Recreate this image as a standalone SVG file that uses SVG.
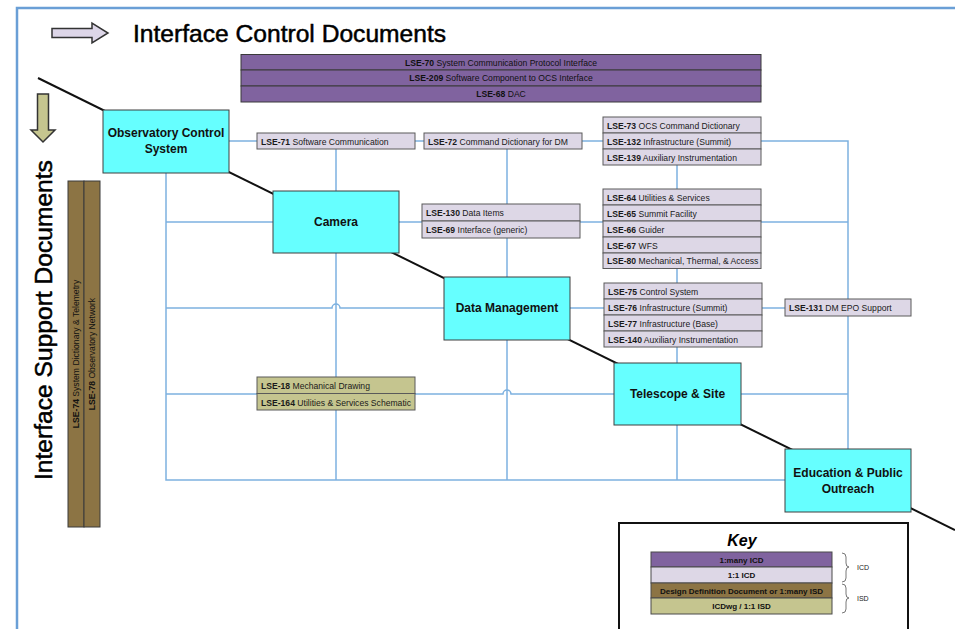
<svg xmlns="http://www.w3.org/2000/svg" width="955" height="629" viewBox="0 0 955 629">
<style>
  .node rect { fill: #66ffff; stroke: #3f3f3f; stroke-width: 1; }
  .nt { font-family: "Liberation Sans", Arial, sans-serif; font-weight: bold; font-size: 12px; fill: #111; text-anchor: middle; }
  .icd rect { fill: #ddd7e6; stroke: #5a5a5a; stroke-width: 1; }
  .many rect { fill: #80639f; stroke: #3a3a3a; stroke-width: 1; }
  .ddd rect { fill: #8c7444; stroke: #3a3a3a; stroke-width: 1; }
  .isd rect { fill: #c5c58f; stroke: #5a5a5a; stroke-width: 1; }
  .t { font-family: "Liberation Sans", Arial, sans-serif; font-size: 8.6px; fill: #1a1a1a; }
  .t tspan.b { font-weight: bold; }
  .c { font-family: "Liberation Sans", Arial, sans-serif; font-size: 8.6px; fill: #111; text-anchor: middle; }
  .kt { font-family: "Liberation Sans", Arial, sans-serif; font-size: 8px; font-weight: bold; fill: #111; text-anchor: middle; }
  .conn path { stroke: #7db1e0; stroke-width: 1.5; fill: none; }
  .big { font-family: "Liberation Sans", Arial, sans-serif; font-size: 24.6px; fill: #000; stroke: #000; stroke-width: 0.5; }
</style>

<!-- frame -->
<path d="M17,629 V8 H955" fill="none" stroke="#6a9fd6" stroke-width="2.5"/>

<!-- title -->
<g id="title">
  <path d="M52,28.5 H92 V23 L108,33 L92,43 V37.5 H52 Z" fill="#ddd6e8" stroke="#333" stroke-width="1.5"/>
  <text class="big" x="133" y="42">Interface Control Documents</text>
</g>
<g id="isd-title">
  <path d="M37.5,94 H48.5 V130 H55 L43,142 L31,130 H37.5 Z" fill="#c5c58f" stroke="#333" stroke-width="1.5"/>
  <text class="big" transform="translate(52,480) rotate(-90)" x="0" y="0">Interface Support Documents</text>
</g>

<!-- backbone diagonal -->
<path id="diagonal" d="M38,78 L955,530" stroke="#111" stroke-width="2" fill="none"/>

<!-- connectors -->
<g id="connectors" class="conn">
  <path d="M229,141 H848 V449"/>
  <path d="M399,222 H848"/>
  <path d="M570,308 H848"/>
  <path d="M741,394 H848"/>
  <path d="M336,141 V191"/>
  <path d="M507,141 V277"/>
  <path d="M677,141 V363"/>
  <path d="M166,173 V480 H785"/>
  <path d="M336,253 V480"/>
  <path d="M507,340 V480"/>
  <path d="M677,425 V480"/>
  <path d="M166,222 H273"/>
  <path d="M166,308 H332 a4,4 0 0 1 8,0 H444"/>
  <path d="M166,394 H503 a4,4 0 0 1 8,0 H614"/>
</g>

<!-- nodes -->
<g id="ocs" class="node">
  <rect x="103" y="110" width="126" height="63"/>
  <text class="nt" x="166" y="137">Observatory Control</text>
  <text class="nt" x="166" y="153">System</text>
</g>
<g id="camera" class="node">
  <rect x="273" y="191" width="126" height="62"/>
  <text class="nt" x="336" y="226">Camera</text>
</g>
<g id="dm" class="node">
  <rect x="444" y="277" width="126" height="63"/>
  <text class="nt" x="507" y="312">Data Management</text>
</g>
<g id="telescope" class="node">
  <rect x="614" y="363" width="127" height="62"/>
  <text class="nt" x="677.5" y="398">Telescope &amp; Site</text>
</g>
<g id="epo" class="node">
  <rect x="785" y="449" width="126" height="63"/>
  <text class="nt" x="848" y="477">Education &amp; Public</text>
  <text class="nt" x="848" y="493">Outreach</text>
</g>

<!-- 1:many ICDs -->
<g id="icd-many" class="many">
  <rect x="241" y="54.5" width="520" height="15.5"/>
  <rect x="241" y="70" width="520" height="16"/>
  <rect x="241" y="86" width="520" height="16"/>
  <text class="c" x="501" y="65.5"><tspan font-weight="bold">LSE-70</tspan> System Communication Protocol Interface</text>
  <text class="c" x="501" y="81"><tspan font-weight="bold">LSE-209</tspan> Software Component to OCS Interface</text>
  <text class="c" x="501" y="97"><tspan font-weight="bold">LSE-68</tspan> DAC</text>
</g>

<!-- ISD bars -->
<g id="isd-bars" class="ddd">
  <rect x="68" y="181" width="16" height="346"/>
  <rect x="84" y="181" width="16" height="346"/>
  <text class="c" transform="translate(79,354) rotate(-90)"><tspan font-weight="bold">LSE-74</tspan> System Dictionary &amp; Telemetry</text>
  <text class="c" transform="translate(95,354) rotate(-90)"><tspan font-weight="bold">LSE-78</tspan> Observatory Network</text>
</g>

<!-- 1:1 ICDs -->
<g id="icd-ocs-cam" class="icd">
  <rect x="257" y="133" width="158" height="16"/>
  <text class="t" x="261" y="144.5"><tspan class="b">LSE-71</tspan> Software Communication</text>
</g>
<g id="icd-ocs-dm" class="icd">
  <rect x="424" y="133" width="158" height="16"/>
  <text class="t" x="428" y="144.5"><tspan class="b">LSE-72</tspan> Command Dictionary for DM</text>
</g>
<g id="icd-ocs-tel" class="icd">
  <rect x="603" y="117" width="158" height="16"/>
  <rect x="603" y="133" width="158" height="16"/>
  <rect x="603" y="149" width="158" height="16"/>
  <text class="t" x="607" y="128.5"><tspan class="b">LSE-73</tspan> OCS Command Dictionary</text>
  <text class="t" x="607" y="144.5"><tspan class="b">LSE-132</tspan> Infrastructure (Summit)</text>
  <text class="t" x="607" y="160.5"><tspan class="b">LSE-139</tspan> Auxiliary Instrumentation</text>
</g>
<g id="icd-cam-dm" class="icd">
  <rect x="422" y="204" width="158" height="17"/>
  <rect x="422" y="221" width="158" height="17"/>
  <text class="t" x="426" y="216"><tspan class="b">LSE-130</tspan> Data Items</text>
  <text class="t" x="426" y="233"><tspan class="b">LSE-69</tspan> Interface (generic)</text>
</g>
<g id="icd-cam-tel" class="icd">
  <rect x="603" y="189" width="158" height="16"/>
  <rect x="603" y="205" width="158" height="16"/>
  <rect x="603" y="221" width="158" height="16"/>
  <rect x="603" y="237" width="158" height="16"/>
  <rect x="603" y="253" width="158" height="15.5"/>
  <text class="t" x="607" y="200.5"><tspan class="b">LSE-64</tspan> Utilities &amp; Services</text>
  <text class="t" x="607" y="216.5"><tspan class="b">LSE-65</tspan> Summit Facility</text>
  <text class="t" x="607" y="232.5"><tspan class="b">LSE-66</tspan> Guider</text>
  <text class="t" x="607" y="248.5"><tspan class="b">LSE-67</tspan> WFS</text>
  <text class="t" x="607" y="264"><tspan class="b">LSE-80</tspan> Mechanical, Thermal, &amp; Access</text>
</g>
<g id="icd-dm-tel" class="icd">
  <rect x="604" y="283" width="158" height="16"/>
  <rect x="604" y="299" width="158" height="16"/>
  <rect x="604" y="315" width="158" height="16"/>
  <rect x="604" y="331" width="158" height="16"/>
  <text class="t" x="608" y="294.5"><tspan class="b">LSE-75</tspan> Control System</text>
  <text class="t" x="608" y="310.5"><tspan class="b">LSE-76</tspan> Infrastructure (Summit)</text>
  <text class="t" x="608" y="326.5"><tspan class="b">LSE-77</tspan> Infrastructure (Base)</text>
  <text class="t" x="608" y="342.5"><tspan class="b">LSE-140</tspan> Auxiliary Instrumentation</text>
</g>
<g id="icd-dm-epo" class="icd">
  <rect x="785" y="299" width="126" height="17"/>
  <text class="t" x="789" y="311"><tspan class="b">LSE-131</tspan> DM EPO Support</text>
</g>

<!-- 1:1 ISDs -->
<g id="isd-cam-tel" class="isd">
  <rect x="257" y="377" width="158" height="16.5"/>
  <rect x="257" y="393.5" width="158" height="16.5"/>
  <text class="t" x="261" y="389"><tspan class="b">LSE-18</tspan> Mechanical Drawing</text>
  <text class="t" x="261" y="405.5"><tspan class="b">LSE-164</tspan> Utilities &amp; Services Schematic</text>
</g>

<!-- key -->
<g id="key">
  <rect x="619" y="523" width="289" height="120" fill="#fff" stroke="#111" stroke-width="2"/>
  <text x="742" y="546" font-family="Liberation Sans, Arial, sans-serif" font-size="16" font-weight="bold" font-style="italic" text-anchor="middle" fill="#000">Key</text>
  <rect x="651" y="552" width="181" height="15" fill="#80639f" stroke="#4a4a4a"/>
  <rect x="651" y="567" width="181" height="16" fill="#ddd7e6" stroke="#4a4a4a"/>
  <rect x="651" y="583" width="181" height="15" fill="#8c7444" stroke="#4a4a4a"/>
  <rect x="651" y="598" width="181" height="16" fill="#c5c58f" stroke="#4a4a4a"/>
  <text class="kt" x="741.5" y="562.5">1:many ICD</text>
  <text class="kt" x="741.5" y="578">1:1 ICD</text>
  <text class="kt" x="741.5" y="593.5">Design Definition Document or 1:many ISD</text>
  <text class="kt" x="741.5" y="609">ICDwg / 1:1 ISD</text>
  <path d="M842,553 Q846,553 846,557 V563 Q846,567 849,567 Q846,567 846,571 V578 Q846,582 842,582" fill="none" stroke="#555" stroke-width="0.8"/>
  <path d="M842,584 Q846,584 846,588 V594 Q846,598 849,598 Q846,598 846,602 V609 Q846,613 842,613" fill="none" stroke="#555" stroke-width="0.8"/>
  <text x="857" y="570" font-family="Liberation Sans, Arial, sans-serif" font-size="7" fill="#222">ICD</text>
  <text x="857" y="601" font-family="Liberation Sans, Arial, sans-serif" font-size="7" fill="#222">ISD</text>
</g>
</svg>
